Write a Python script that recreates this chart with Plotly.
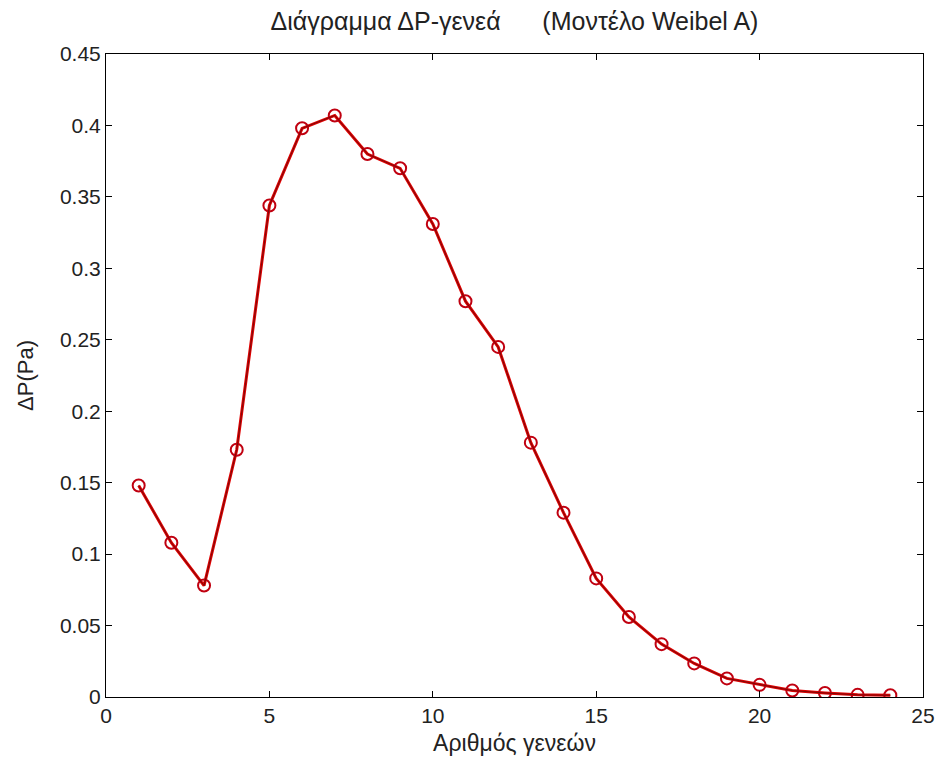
import plotly.graph_objects as go

generations = list(range(1, 25))
dp_values = [0.148, 0.108, 0.078, 0.173, 0.344, 0.398, 0.407, 0.380, 0.370, 0.331,
             0.277, 0.245, 0.178, 0.129, 0.083, 0.056, 0.037, 0.0235, 0.013, 0.0085,
             0.0045, 0.0028, 0.0015, 0.0012]

x_ticks = [0, 5, 10, 15, 20, 25]
x_tick_labels = ["0", "5", "10", "15", "20", "25"]
y_ticks = [0, 0.05, 0.1, 0.15, 0.2, 0.25, 0.3, 0.35, 0.4, 0.45]
y_tick_labels = ["0", "0.05", "0.1", "0.15", "0.2", "0.25", "0.3", "0.35", "0.4", "0.45"]

title_text = "Διάγραμμα ΔP-γενεά\u00a0\u00a0\u00a0\u00a0\u00a0\u00a0(Μοντέλο Weibel A)"
x_title = "Αριθμός γενεών"
y_title = "ΔP(Pa)"

FONT = "Liberation Sans, Arial, sans-serif"
TXT = "#222222"

W, H = 936, 765
L, T, R, B = 106, 54, 13, 68

fig = go.Figure()
fig.add_trace(go.Scatter(
    x=generations, y=dp_values, mode="lines+markers",
    line=dict(color="#e00000", width=3),
    marker=dict(symbol="circle-open", size=12, color="#c00010", line=dict(width=2)),
    showlegend=False, hoverinfo="skip",
))
fig.add_trace(go.Scatter(
    x=generations, y=dp_values, mode="lines",
    line=dict(color="#7a0a0a", width=1),
    showlegend=False, hoverinfo="skip",
))

axis_common = dict(
    showline=True, linecolor="black", linewidth=1, mirror="ticks",
    ticks="inside", ticklen=6, tickcolor="black", tickwidth=1,
    showgrid=False, zeroline=False, automargin=False,
    ticklabeloverflow="allow",
    tickfont=dict(family=FONT, size=21, color=TXT),
)

fig.update_layout(
    width=W, height=H,
    margin=dict(l=L, r=R, t=T, b=B),
    paper_bgcolor="white", plot_bgcolor="white",
    title=dict(text=title_text, x=(L + (W - R)) / 2 / W, xanchor="center",
               y=1 - 21 / H, yanchor="middle",
               font=dict(family=FONT, size=25, color=TXT)),
    xaxis=dict(range=[0, 25], tickvals=x_ticks, ticktext=x_tick_labels,
               title=dict(text=x_title, font=dict(family=FONT, size=23, color=TXT), standoff=8),
               **axis_common),
    yaxis=dict(range=[0, 0.45], tickvals=y_ticks, ticktext=y_tick_labels,
               title=dict(text=y_title, font=dict(family=FONT, size=22, color=TXT), standoff=20),
               **axis_common),
)

fig.write_html("out.html",
               config={"displayModeBar": False},
               post_script="document.body.style.margin='0';document.body.style.overflow='hidden';")
